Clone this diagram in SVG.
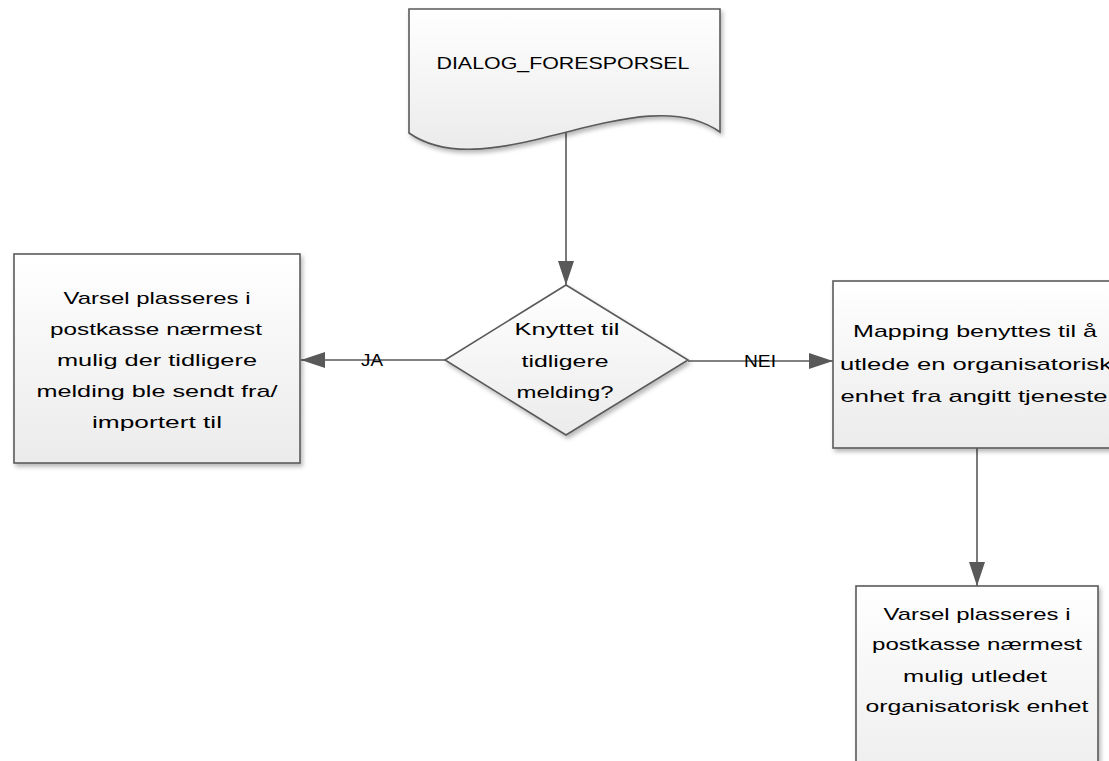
<svg xmlns="http://www.w3.org/2000/svg" width="1109" height="761" viewBox="0 0 1109 761">
<defs>
<linearGradient id="g" x1="0" y1="0" x2="0" y2="1">
<stop offset="0" stop-color="#ffffff"/>
<stop offset="1" stop-color="#ebebeb"/>
</linearGradient>
<filter id="sh" x="-10%" y="-10%" width="130%" height="130%">
<feDropShadow dx="2" dy="3" stdDeviation="2" flood-color="#000" flood-opacity="0.28"/>
</filter>
<marker id="ah" markerUnits="userSpaceOnUse" markerWidth="26" markerHeight="18" refX="24" refY="8" orient="auto">
<path d="M0,0 L24,8 L0,16 Z" fill="#595959"/>
</marker>
<style>
.shape{fill:url(#g);stroke:#5a5a5a;stroke-width:1.6;filter:url(#sh)}
.conn{fill:none;stroke:#595959;stroke-width:1.6;marker-end:url(#ah)}
text{font-family:"Liberation Sans",Arial,sans-serif;font-size:17px;fill:#000;text-anchor:middle}
</style>
</defs>
<rect width="1109" height="761" fill="#fff"/>
<g id="connectors">
<line class="conn" x1="566" y1="130" x2="566" y2="285"/>
<line class="conn" x1="445" y1="360" x2="301" y2="360"/>
<line class="conn" x1="688" y1="361" x2="833" y2="361"/>
<line class="conn" x1="977" y1="448" x2="977" y2="586"/>
<text x="372" y="366" textLength="22" lengthAdjust="spacingAndGlyphs">JA</text>
<text x="760" y="367" textLength="32" lengthAdjust="spacingAndGlyphs">NEI</text>
</g>
<g id="doc">
<path class="shape" d="M409,9 H720 V132 C640,75 490,190 409,133 Z"/>
<text x="563" y="69" textLength="253" lengthAdjust="spacingAndGlyphs">DIALOG_FORESPORSEL</text>
</g>
<g id="decision">
<path class="shape" d="M566,285 L688,360 L566,435 L445,360 Z"/>
<text x="567" y="335" textLength="105" lengthAdjust="spacingAndGlyphs">Knyttet til</text>
<text x="565" y="367" textLength="87" lengthAdjust="spacingAndGlyphs">tidligere</text>
<text x="565" y="398" textLength="97" lengthAdjust="spacingAndGlyphs">melding?</text>
</g>
<g id="left">
<rect class="shape" x="14" y="254" width="286" height="209"/>
<text x="157" y="304" textLength="187" lengthAdjust="spacingAndGlyphs">Varsel plasseres i</text>
<text x="156" y="335" textLength="212" lengthAdjust="spacingAndGlyphs">postkasse nærmest</text>
<text x="157" y="366" textLength="200" lengthAdjust="spacingAndGlyphs">mulig der tidligere</text>
<text x="157" y="397" textLength="241" lengthAdjust="spacingAndGlyphs">melding ble sendt fra/</text>
<text x="157" y="428" textLength="130" lengthAdjust="spacingAndGlyphs">importert til</text>
</g>
<g id="right">
<rect class="shape" x="833" y="281" width="284" height="167"/>
<text x="975" y="337" textLength="244" lengthAdjust="spacingAndGlyphs">Mapping benyttes til å</text>
<text x="976" y="370" textLength="272" lengthAdjust="spacingAndGlyphs">utlede en organisatorisk</text>
<text x="974" y="402" textLength="267" lengthAdjust="spacingAndGlyphs">enhet fra angitt tjeneste</text>
</g>
<g id="bottom">
<rect class="shape" x="856" y="586" width="242" height="220"/>
<text x="977" y="620" textLength="187" lengthAdjust="spacingAndGlyphs">Varsel plasseres i</text>
<text x="977" y="650" textLength="210" lengthAdjust="spacingAndGlyphs">postkasse nærmest</text>
<text x="975" y="682" textLength="144" lengthAdjust="spacingAndGlyphs">mulig utledet</text>
<text x="977" y="712" textLength="223" lengthAdjust="spacingAndGlyphs">organisatorisk enhet</text>
</g>
</svg>
